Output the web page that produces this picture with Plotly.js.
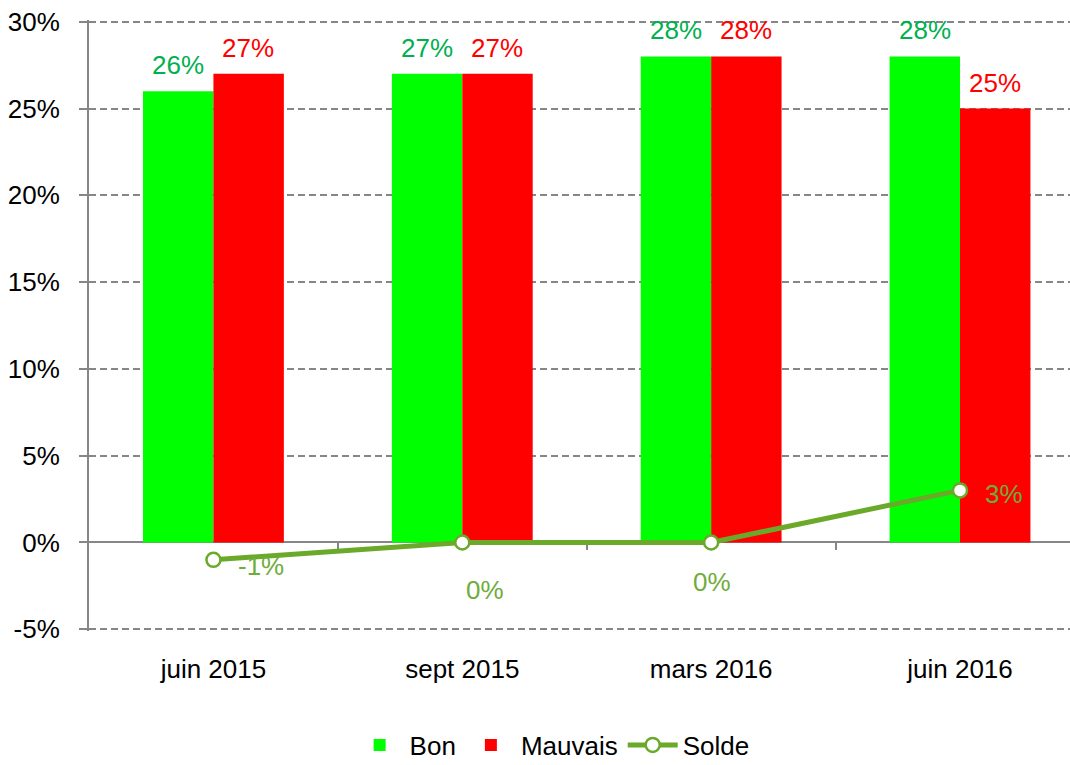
<!DOCTYPE html>
<html>
<head>
<meta charset="utf-8">
<script src="https://cdn.plot.ly/plotly-3.0.1.min.js"></script>
<style>html,body{margin:0;padding:0;background:#fff;}#chart{width:1070px;height:765px;}</style>
</head>
<body>
<div id="chart"></div>
<script>
const categories = ['juin 2015', 'sept 2015', 'mars 2016', 'juin 2016'];
const bon = [26, 27, 28, 28];
const mauvais = [27, 27, 28, 25];
const solde = [-1, 0, 0, 3];
const yTicks = [-5, 0, 5, 10, 15, 20, 25, 30];

const FONT = '"Liberation Sans", Arial, sans-serif';
const FS = 26;
const GREEN_TXT = '#00B050';
const SOLDE_C = '#6AA92A';
const GREY = '#868686';

// label offsets for the Solde points (pixels)
const soldeShift = [[48, -6], [23, -48], [1, -40], [44, -4]];
const BAR_HALF = 35;   // half bar width in px, for label placement
const BAR_LABEL_GAP = 9;

const pct = v => v + '%';

const traces = [
  {
    type: 'bar', name: 'Bon', x: categories, y: bon,
    marker: {color: '#00FF00'}, hoverinfo: 'skip'
  },
  {
    type: 'bar', name: 'Mauvais', x: categories, y: mauvais,
    marker: {color: '#FF0000'}, hoverinfo: 'skip'
  },
  {
    type: 'scatter', mode: 'lines+markers', name: 'Solde', x: categories, y: solde,
    line: {color: SOLDE_C, width: 5},
    marker: {symbol: 'circle', size: 14, color: '#FFFFFF', line: {color: SOLDE_C, width: 2.5}},
    cliponaxis: false, hoverinfo: 'skip'
  },
  {
    type: 'scatter', x: [], y: [], xaxis: 'x2', showlegend: false, hoverinfo: 'skip'
  }
];

const barLabel = (vals, color, dir) => vals.map((v, i) => ({
  x: categories[i], y: v, xref: 'x', yref: 'y',
  text: pct(v), showarrow: false, yanchor: 'bottom',
  xshift: dir * BAR_HALF, yshift: BAR_LABEL_GAP,
  font: {color: color, size: FS, family: FONT}
}));

const soldeLabels = solde.map((v, i) => ({
  x: categories[i], y: v, xref: 'x', yref: 'y',
  text: pct(v), showarrow: false,
  xshift: soldeShift[i][0], yshift: soldeShift[i][1],
  font: {color: '#6FAD3A', size: FS, family: FONT}
}));

const xRange = [-0.5, 3.442];
const yRange = [-5.1, 30.1];

const layout = {
  width: 1070, height: 765,
  margin: {l: 89, r: 0, t: 20, b: 134},
  paper_bgcolor: '#FFFFFF', plot_bgcolor: '#FFFFFF',
  font: {family: FONT, size: FS, color: '#000000'},
  barmode: 'group', bargap: 0.434, bargroupgap: 0,
  showlegend: true,
  legend: {
    orientation: 'h', xref: 'container', yref: 'container',
    x: 0.516, xanchor: 'center', y: 20 / 765, yanchor: 'middle',
    font: {size: FS, family: FONT, color: '#000000'},
    traceorder: 'normal', itemwidth: 50
  },
  xaxis: {
    type: 'category', range: xRange,
    showgrid: false, showline: false, zeroline: false, ticks: '',
    ticklabelstandoff: 20,
    tickfont: {size: FS, family: FONT, color: '#000000'}
  },
  xaxis2: {
    type: 'linear', overlaying: 'x', anchor: 'free',
    position: (0 - yRange[0]) / (yRange[1] - yRange[0]),
    range: xRange, tickmode: 'array', tickvals: [0.5, 1.5, 2.5],
    ticks: 'outside', ticklen: 7, tickwidth: 2, tickcolor: GREY,
    showticklabels: false, showgrid: false, zeroline: false,
    showline: true, linecolor: GREY, linewidth: 2, layer: 'below traces'
  },
  yaxis: {
    range: yRange, tickmode: 'array', tickvals: yTicks,
    ticktext: yTicks.map(pct),
    showgrid: true, gridcolor: GREY, gridwidth: 2, griddash: '7px,4px',
    zeroline: false, showline: true, linecolor: GREY, linewidth: 2,
    ticks: 'outside', ticklen: 8, tickwidth: 2, tickcolor: GREY,
    ticklabelstandoff: 14,
    tickfont: {size: FS, family: FONT, color: '#000000'}
  },
  annotations: [
    ...barLabel(bon, GREEN_TXT, -1),
    ...barLabel(mauvais, '#FF0000', 1),
    ...soldeLabels
  ]
};

Plotly.newPlot('chart', traces, layout, {displayModeBar: false, staticPlot: true});
</script>
</body>
</html>
